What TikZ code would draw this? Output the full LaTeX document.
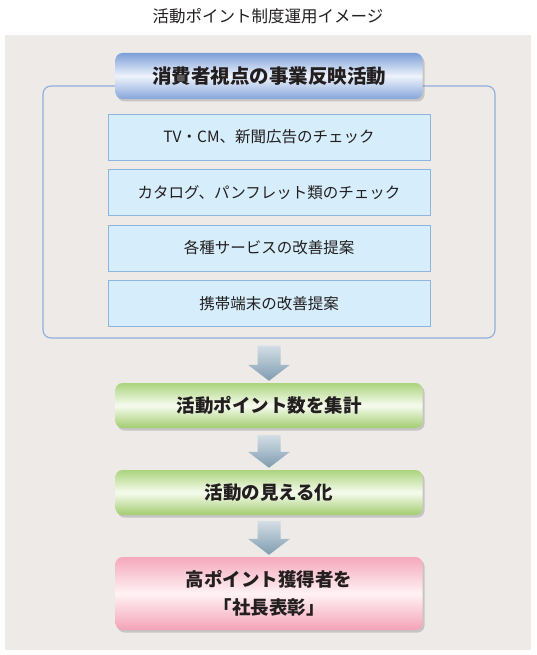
\documentclass[tikz,border=0pt]{standalone}
\usepackage{fontspec}
\newfontfamily\jpfont{Noto Sans CJK JP}
\usepackage{tikz}
\usetikzlibrary{calc,shadows}

\definecolor{bgcol}{HTML}{EDEAE8}
\definecolor{textcol}{HTML}{231F20}
\definecolor{frameline}{HTML}{8FAEDB}
\definecolor{itemfill}{HTML}{D6EEFB}
\definecolor{itemline}{HTML}{8DB5E2}
\definecolor{headtop}{HTML}{7C9FD8}
\definecolor{headmid}{HTML}{EEF3FC}
\definecolor{headbot}{HTML}{84A6DB}
\definecolor{greentop}{HTML}{ABD47D}
\definecolor{greenmid}{HTML}{F6FBEE}
\definecolor{greenbot}{HTML}{A2CD70}
\definecolor{pinktop}{HTML}{F5A8BB}
\definecolor{pinkmid}{HTML}{FFF2F5}
\definecolor{pinkbot}{HTML}{F4A2B7}
\definecolor{arrowtop}{HTML}{D3DEE5}
\definecolor{arrowbot}{HTML}{7F9BB0}

\tikzset{
  bigbox/.style={rounded corners=7pt, minimum width=307pt, minimum height=45pt,
    text=textcol, font=\jpfont\bfseries\fontsize{18.5}{28}\selectfont,
    drop shadow={opacity=0.35, shadow xshift=2pt, shadow yshift=-2.5pt}},
  headbox/.style={bigbox, top color=headtop, bottom color=headbot, middle color=headmid,
    minimum height=46pt, font=\jpfont\bfseries\fontsize{19.5}{24}\selectfont},
  greenbox/.style={bigbox, top color=greentop, bottom color=greenbot, middle color=greenmid},
  pinkbox/.style={bigbox, top color=pinktop, bottom color=pinkbot, middle color=pinkmid,
    minimum height=73pt, align=center},
  itembox/.style={draw=itemline, fill=itemfill, line width=0.9pt, minimum width=322pt,
    minimum height=46pt, text=textcol, font=\jpfont\fontsize{15.5}{18}\selectfont},
  blockarrow/.style={top color=arrowtop, bottom color=arrowbot}
}

\begin{document}
\begin{tikzpicture}[x=1pt, y=-1pt]
  \useasboundingbox (0,0) rectangle (536,655);
  \fill[bgcol] (5,35) rectangle (531,650);

  \node[text=textcol, font=\jpfont\fontsize{16.5}{20}\selectfont] (title) at (268,16) {活動ポイント制度運用イメージ};

  % frame around the check items
  \node[draw=frameline, line width=1.1pt, rounded corners=8pt,
        minimum width=452pt, minimum height=252pt] (frame) at (269,212) {};
  \node[headbox] (head) at (269,76) {消費者視点の事業反映活動};

  \node[itembox] (tvcm)    at (269,137)   {TV・CM、新聞広告のチェック};
  \node[itembox] (catalog) at (269,192.5) {カタログ、パンフレット類のチェック};
  \node[itembox] (service) at (269,248)   {各種サービスの改善提案};
  \node[itembox] (mobile)  at (269,303.5) {携帯端末の改善提案};

  \node[greenbox] (sum)   at (269,405.5) {活動ポイント数を集計};
  \node[greenbox] (visual) at (269,492.5) {活動の見える化};
  \node[pinkbox]  (award) at (269,593.5) {高ポイント獲得者を\\「社長表彰」};

  % block arrows
  \shade[blockarrow] ($(frame.south)+(-11.5,7)$) -- ($(frame.south)+(11.5,7)$)
    -- ($(sum.north)+(11.5,-18)$) -- ($(sum.north)+(21,-18)$) -- ($(sum.north)+(0,-2)$)
    -- ($(sum.north)+(-21,-18)$) -- ($(sum.north)+(-11.5,-18)$) -- cycle;
  \shade[blockarrow] ($(sum.south)+(-11.5,7)$) -- ($(sum.south)+(11.5,7)$)
    -- ($(visual.north)+(11.5,-18)$) -- ($(visual.north)+(21,-18)$) -- ($(visual.north)+(0,-2)$)
    -- ($(visual.north)+(-21,-18)$) -- ($(visual.north)+(-11.5,-18)$) -- cycle;
  \shade[blockarrow] ($(visual.south)+(-11.5,6)$) -- ($(visual.south)+(11.5,6)$)
    -- ($(award.north)+(11.5,-18)$) -- ($(award.north)+(21,-18)$) -- ($(award.north)+(0,-2)$)
    -- ($(award.north)+(-21,-18)$) -- ($(award.north)+(-11.5,-18)$) -- cycle;
\end{tikzpicture}
\end{document}
